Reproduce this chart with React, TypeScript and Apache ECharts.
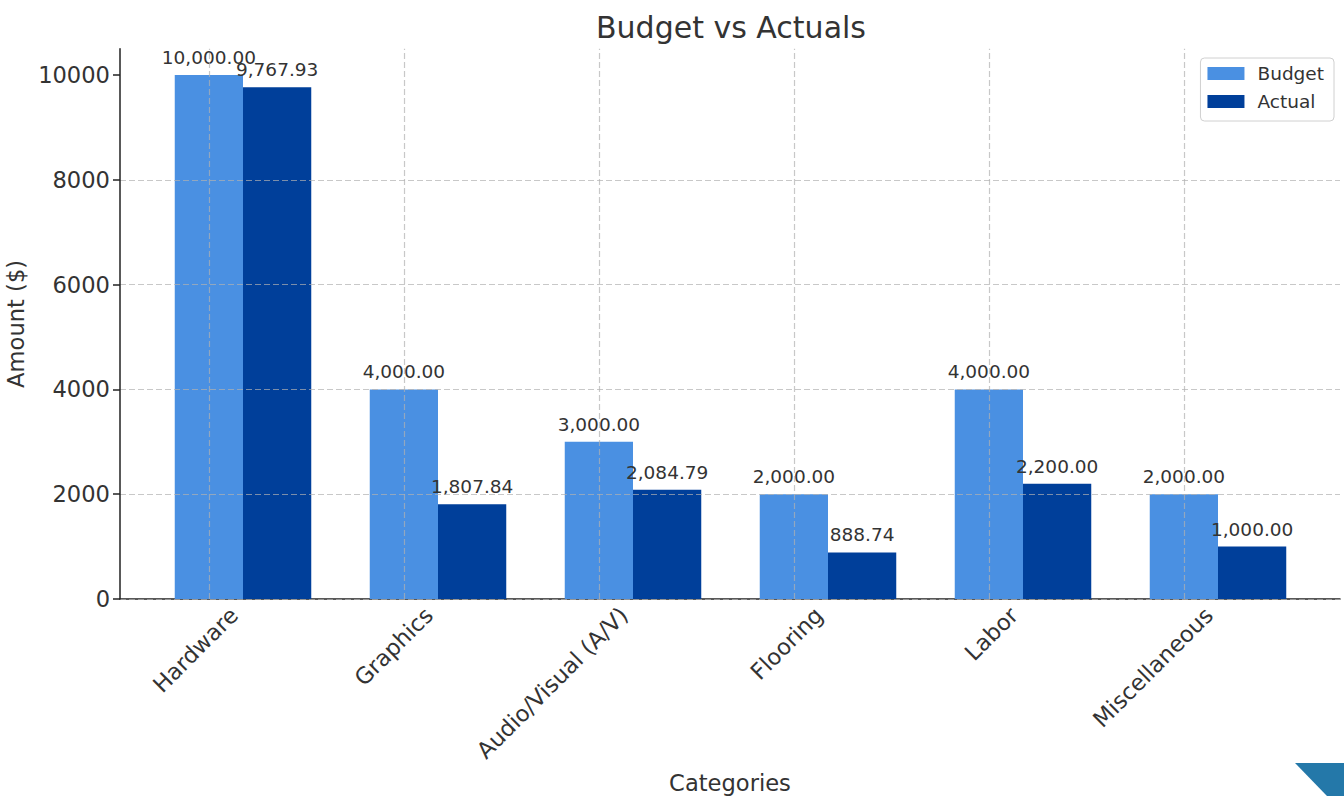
import React, { useEffect, useRef } from "react";
import * as echarts from "echarts";

const categories = ["Hardware", "Graphics", "Audio/Visual (A/V)", "Flooring", "Labor", "Miscellaneous"];
const budgetValues = [10000, 4000, 3000, 2000, 4000, 2000];
const actualValues = [9767.93, 1807.84, 2084.79, 888.74, 2200, 1000];
const yTicks = [0, 2000, 4000, 6000, 8000, 10000];

const FONT = "DejaVu Sans";
const TEXT = "#333333";
const GRID_COLOR = "rgba(176,176,176,0.7)";

const fmt = (v: number) =>
  v.toLocaleString("en-US", { minimumFractionDigits: 2, maximumFractionDigits: 2 });

export default function App() {
  const ref = useRef<HTMLDivElement>(null);
  useEffect(() => {
    if (!ref.current) return;
    const chart = echarts.init(ref.current, undefined, { renderer: "svg" });
    const gridTop = 48.8;
    const gridBottom = 796 - 599;
    const labelStyle = {
      show: true,
      position: "top" as const,
      distance: 8,
      fontFamily: FONT,
      fontSize: 18.5,
      color: TEXT,
      formatter: (p: any) => fmt(p.value),
    };
    chart.setOption({
      animation: false,
      backgroundColor: "#ffffff",
      textStyle: { fontFamily: FONT },
      grid: [
        { left: 120, right: 4, top: gridTop, bottom: gridBottom, outerBoundsMode: "none", containLabel: false },
        { left: 145.5, right: 28.5, top: gridTop, bottom: gridBottom, outerBoundsMode: "none", containLabel: false },
      ],
      xAxis: [
        {
          type: "value",
          gridIndex: 0,
          min: 0,
          max: 1,
          axisLine: { show: true, onZero: false, lineStyle: { color: "#222", width: 1.5 } },
          axisTick: { show: false },
          axisLabel: { show: false },
          splitLine: { show: false },
          name: "Categories",
          nameLocation: "middle",
          nameGap: 172,
          nameTextStyle: { fontFamily: FONT, fontSize: 22.6, color: TEXT },
        },
        {
          type: "category",
          gridIndex: 1,
          data: categories,
          axisLine: { show: false },
          axisTick: { show: false },
          axisLabel: {
            rotate: 45,
            margin: 3,
            fontFamily: FONT,
            fontSize: 22.6,
            color: TEXT,
            interval: 0,
            padding: [0, 13, 0, 0],
          },
          splitLine: { show: false },
        },
      ],
      yAxis: [
        {
          type: "value",
          gridIndex: 0,
          min: 0,
          max: 10500,
          interval: 2000,
          z: 3,
          axisLine: { show: true, lineStyle: { color: "#222", width: 1.5 } },
          axisTick: {
            show: true,
            length: 7,
            lineStyle: { color: "#222", width: 1.5 },
            customValues: yTicks,
          },
          axisLabel: {
            margin: 10,
            fontFamily: FONT,
            fontSize: 22.6,
            color: TEXT,
            customValues: yTicks,
            formatter: (v: number) => String(v),
          },
          splitLine: {
            show: true,
            showMaxLine: false,
            lineStyle: { color: GRID_COLOR, type: [6, 3], width: 1.2 },
          },
          name: "Amount ($)",
          nameLocation: "middle",
          nameGap: 85,
          nameTextStyle: { fontFamily: FONT, fontSize: 22.6, color: TEXT },
        },
        {
          type: "value",
          gridIndex: 1,
          min: 0,
          max: 10500,
          show: false,
        },
      ],
      legend: {
        orient: "vertical",
        right: 10,
        top: 58,
        padding: [6, 10, 10, 7],
        itemWidth: 37,
        itemHeight: 13,
        itemGap: 9,
        icon: "rect",
        backgroundColor: "rgba(255,255,255,0.85)",
        borderColor: "#d0d0d0",
        borderWidth: 1,
        borderRadius: 4,
        textStyle: { fontFamily: FONT, fontSize: 18.5, color: TEXT, padding: [0, 0, 0, 8] },
        data: ["Budget", "Actual"],
      },
      graphic: [
        {
          type: "text",
          x: 731,
          y: 27,
          style: {
            text: "Budget vs Actuals",
            fontFamily: FONT,
            fontSize: 30,
            fill: TEXT,
            textAlign: "center",
            textVerticalAlign: "middle",
          },
        },
        {
          type: "polygon",
          shape: { points: [[1295, 763], [1344, 763], [1344, 796], [1327, 796]] },
          style: { fill: "#2478a9" },
        },
      ],
      series: [
        {
          name: "Budget",
          type: "bar",
          xAxisIndex: 1,
          yAxisIndex: 1,
          data: budgetValues,
          barWidth: 68.25,
          barGap: "0%",
          itemStyle: { color: "#4a90e2" },
          label: labelStyle,
          markLine: {
            silent: true,
            symbol: "none",
            label: { show: false },
            lineStyle: { color: GRID_COLOR, type: [6, 3], width: 1.2 },
            data: categories.map((c) => ({ xAxis: c })),
          },
        },
        {
          name: "Actual",
          type: "bar",
          xAxisIndex: 1,
          yAxisIndex: 1,
          data: actualValues,
          barWidth: 68.25,
          barGap: "0%",
          itemStyle: { color: "#003f9a" },
          label: labelStyle,
        },
      ],
    });
    return () => chart.dispose();
  }, []);
  return (
    <div
      ref={ref}
      style={{ position: "fixed", left: 0, top: 0, width: 1344, height: 796 }}
    />
  );
}
